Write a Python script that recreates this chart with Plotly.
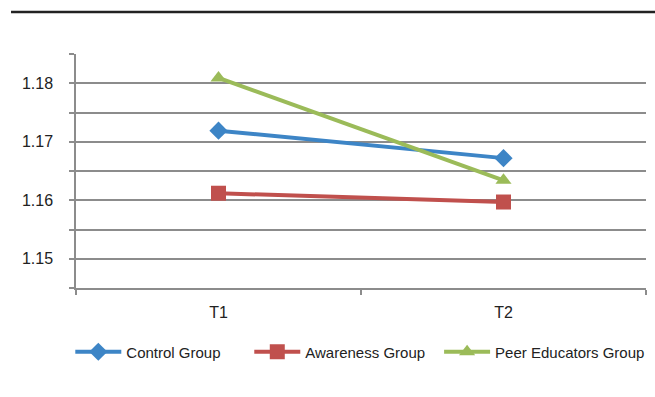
import plotly.graph_objects as go

# Mean scores at the two measurement points
times = ["T1", "T2"]
control_group = [1.1719, 1.1672]
awareness_group = [1.1612, 1.1597]
peer_educators_group = [1.1809, 1.1634]

# Axis ticks: gridlines every 0.005, labels every 0.01
y_tickvals = [1.145, 1.15, 1.155, 1.16, 1.165, 1.17, 1.175, 1.18, 1.185]
y_ticktext = ["", "1.15", "", "1.16", "", "1.17", "", "1.18", ""]

FONT = "Liberation Sans Narrow, Liberation Sans, Arial, sans-serif"

# name, values, colour, marker symbol, marker size, legend id, legend x
series = [
    ("Control Group", control_group, "#3d85c6", "diamond", 14, "legend", -0.01),
    ("Awareness Group", awareness_group, "#c0504d", "square", 15, "legend2", 0.304),
    ("Peer Educators Group", peer_educators_group, "#9bbb59", "triangle-up", 14, "legend3", 0.637),
]

fig = go.Figure()
legends = {}
for name, values, color, symbol, size, legend_id, lx in series:
    fig.add_trace(go.Scatter(
        x=times, y=values, name=name, mode="lines+markers",
        line=dict(color=color, width=4),
        marker=dict(symbol=symbol, size=size, color=color, line=dict(width=0)),
        legend=legend_id,
    ))
    legends[legend_id] = dict(
        orientation="h", x=lx, xanchor="left", y=-0.2735, yanchor="middle",
        font=dict(family=FONT, size=15, color="#222222"),
        itemwidth=46, bgcolor="rgba(0,0,0,0)",
    )

grid = "#8c8c8c"
fig.update_layout(
    width=655, height=397,
    margin=dict(l=76, r=9, t=54, b=109, autoexpand=False),
    paper_bgcolor="white", plot_bgcolor="white",
    font=dict(family=FONT, size=16, color="#222222"),
    showlegend=True,
    **legends,
    xaxis=dict(
        type="category", range=[-0.5, 1.5],
        showline=True, linecolor=grid, linewidth=1.5,
        showgrid=False, ticks="outside", tickson="boundaries",
        ticklen=5, tickcolor=grid, tickwidth=1.5,
        ticklabelstandoff=9, zeroline=False,
    ),
    yaxis=dict(
        range=[1.145, 1.185],
        tickvals=y_tickvals, ticktext=y_ticktext,
        showgrid=True, gridcolor=grid, gridwidth=1.5,
        showline=True, linecolor=grid, linewidth=1.5,
        ticks="outside", ticklen=5, tickcolor=grid, tickwidth=1.5,
        ticklabelstandoff=13, zeroline=False,
    ),
    shapes=[dict(
        type="line", xref="paper", yref="paper",
        x0=-0.114, x1=1.02, y0=1.1795, y1=1.1795,
        line=dict(color="#222222", width=2.5),
    )],
)

fig.write_html("out.html")
